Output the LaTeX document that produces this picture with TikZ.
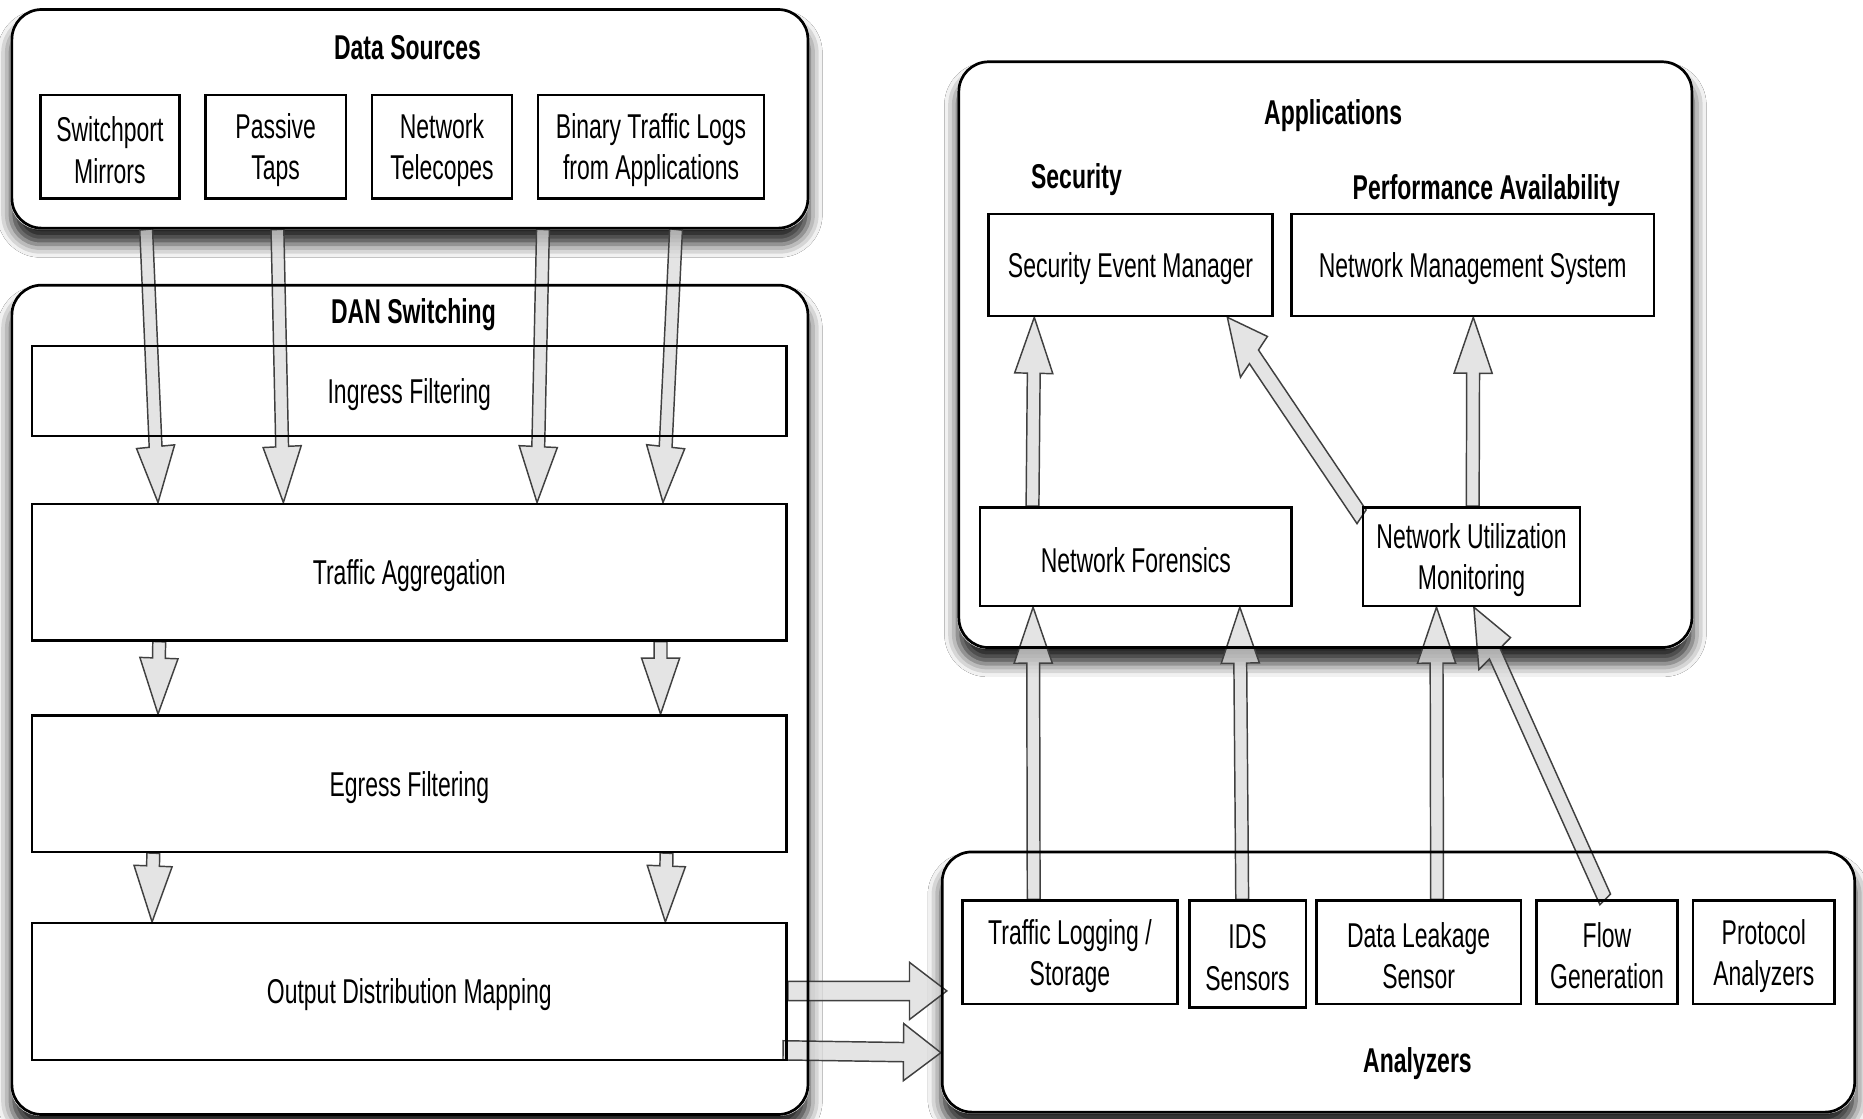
\documentclass[tikz,border=0pt]{standalone}
\usepackage{fontspec}
\setmainfont{Liberation Sans}[FakeStretch=0.667]
\usetikzlibrary{calc,shadows.blur}
\pgfdeclarelayer{bg}
\pgfdeclarelayer{arr}
\pgfsetlayers{bg,arr,main}

\def\sq{0.667}
\def\SW{4.6}
\def\HW{13.7}
\def\HL{26.8}
\newcommand\fapt[3]{%
  \pgfmathsetmacro\FAtx{\FAax+\sq*((#2)*(\FAux)+(#3)*(\FApx))}%
  \pgfmathsetmacro\FAty{\FAay+(#2)*(\FAuy)+(#3)*(\FApy)}%
  \expandafter\edef\csname FAp#1\endcsname{(\FAtx pt,\FAty pt)}}
\newcommand\fatarrow[2]{%
  \pgfpointanchor{#1}{center}\pgfgetlastxy{\FAxa}{\FAya}%
  \pgfpointanchor{#2}{center}\pgfgetlastxy{\FAxb}{\FAyb}%
  \pgfmathsetmacro\FAax{\FAxa}%
  \pgfmathsetmacro\FAay{\FAya}%
  \pgfmathsetmacro\FAdx{(\FAxb-\FAxa)/\sq}%
  \pgfmathsetmacro\FAdy{\FAyb-\FAya}%
  \pgfmathsetmacro\FAlen{veclen(\FAdx,\FAdy)}%
  \pgfmathsetmacro\FAux{(\FAdx)/(\FAlen)}%
  \pgfmathsetmacro\FAuy{(\FAdy)/(\FAlen)}%
  \pgfmathsetmacro\FApx{0-(\FAuy)}%
  \pgfmathsetmacro\FApy{\FAux}%
  \pgfmathsetmacro\FAb{\FAlen-\HL}%
  \fapt{a}{0}{\SW}\fapt{b}{\FAb}{\SW}\fapt{c}{\FAb}{\HW}\fapt{d}{\FAlen}{0}%
  \fapt{e}{\FAb}{-\HW}\fapt{f}{\FAb}{-\SW}\fapt{g}{0}{-\SW}%
  \edef\FApath{\noexpand\draw[fat] \csname FApa\endcsname -- \csname FApb\endcsname -- \csname FApc\endcsname -- \csname FApd\endcsname -- \csname FApe\endcsname -- \csname FApf\endcsname -- \csname FApg\endcsname -- cycle;}%
  \FApath}
\newcommand\contnode[5]{\node[cont,minimum width={(#3-#1)*0.02cm},minimum height={(#4-#2)*0.02cm}] (#5) at ({(#1+#3)/2},{(#2+#4)/2}) {};}
\newcommand\boxnode[6]{\node[box,minimum width={(#3-#1)*0.02cm},minimum height={(#4-#2)*0.02cm}] (#5) at ({(#1+#3)/2},{(#2+#4)/2}) {};
  \node[boxtext] (#5t) at ([yshift=-0.06cm]#5.center) {#6};}

\begin{document}
\begin{tikzpicture}[x=0.02cm,y=-0.02cm,
  every node/.style={font=\fontsize{16.5}{19.9}\selectfont},
  box/.style={draw=black, line width=1.2pt, inner sep=0pt},
  boxtext/.style={inner sep=0pt, align=center},
  cont/.style={draw=black, line width=1.3pt, inner sep=0pt, rounded corners=0.5cm},
  contfill/.style={fill=white, rounded corners=0.5cm,
    blur shadow={shadow xshift=0pt, shadow yshift=-0.25cm, shadow blur radius=0.22cm, shadow opacity=85}},
  fat/.style={draw=black!75, line width=0.7pt, fill=black!14, fill opacity=0.75, line join=miter},
  ttl/.style={font=\fontsize{16.5}{19.9}\selectfont\bfseries, anchor=base}]

\begin{pgfonlayer}{bg}
\fill[white] (0,0) rectangle (1568,941);
\end{pgfonlayer}
\useasboundingbox (0,0) rectangle (1568,941);

% containers
\contnode{10}{8}{680}{192}{ds}
\contnode{10}{240}{680}{938}{dan}
\contnode{807}{52}{1424}{545}{apps}
\contnode{793}{717}{1561}{936}{an}
\begin{pgfonlayer}{bg}
\foreach \c in {ds,dan,apps,an} \fill[contfill] (\c.south west) rectangle (\c.north east);
\end{pgfonlayer}

% titles
\node[ttl] (tds) at (343,50) {Data Sources};
\node[ttl] (tdan) at (348,272) {DAN Switching};
\node[ttl] (tapps) at (1122,105) {Applications};
\node[ttl] (tsec) at (906,159) {Security};
\node[ttl] (tperf) at (1251,168) {Performance Availability};
\node[ttl] (tan) at (1193,903) {Analyzers};

% inner boxes
\boxnode{34}{80}{151}{167}{sm}{Switchport\\Mirrors}
\boxnode{173}{80}{291}{167}{pst}{Passive\\Taps}
\boxnode{313}{80}{431}{167}{nt}{Network\\Telecopes}
\boxnode{453}{80}{643}{167}{bt}{Binary Traffic Logs\\from Applications}
\boxnode{27}{291}{662}{367}{ing}{Ingress Filtering}
\boxnode{27}{424}{662}{539}{ta}{Traffic Aggregation}
\boxnode{27}{602}{662}{717}{ef}{Egress Filtering}
\boxnode{27}{777}{662}{892}{odm}{Output Distribution Mapping}
\boxnode{832}{180}{1071}{266}{sem}{Security Event Manager}
\boxnode{1087}{180}{1392}{266}{nms}{Network Management System}
\boxnode{825}{427}{1087}{510}{nf}{Network Forensics}
\boxnode{1147}{427}{1330}{510}{num}{Network Utilization\\Monitoring}
\boxnode{810}{758}{991}{845}{tls}{Traffic Logging /\\Storage}
\boxnode{1001}{758}{1099}{848}{ids}{IDS\\Sensors}
\boxnode{1108}{758}{1280}{845}{dls}{Data Leakage\\Sensor}
\boxnode{1293}{758}{1412}{845}{fg}{Flow\\Generation}
\boxnode{1425}{758}{1544}{845}{pa}{Protocol\\Analyzers}

% arrow end points
\coordinate (a1t) at (123,0 |- ds.south);   \coordinate (a1h) at (133,0 |- ta.north);
\coordinate (a2t) at (233.5,0 |- ds.south); \coordinate (a2h) at (238.5,0 |- ta.north);
\coordinate (a3t) at (457,0 |- ds.south);   \coordinate (a3h) at (452,0 |- ta.north);
\coordinate (a4t) at (569,0 |- ds.south);   \coordinate (a4h) at (558,0 |- ta.north);
\coordinate (b1t) at (134,0 |- ta.south);   \coordinate (b1h) at (133,0 |- ef.north);
\coordinate (b2t) at (556,0 |- ta.south);   \coordinate (b2h) at (556,0 |- ef.north);
\coordinate (c1t) at (129,0 |- ef.south);   \coordinate (c1h) at (128,0 |- odm.north);
\coordinate (c2t) at (561,0 |- ef.south);   \coordinate (c2h) at (560,0 |- odm.north);
\coordinate (d1t) at (odm.east |- 0,834);   \coordinate (d1h) at ($(an.west |- 0,834)+(5,0)$);
\coordinate (d2t) at ($(odm.east |- 0,884)+(-4,0)$); \coordinate (d2h) at (an.west |- 0,886);
\coordinate (e1t) at (869,0 |- nf.north);   \coordinate (e1h) at (870.5,0 |- sem.south);
\coordinate (e2t) at ($(num.north west)+(0,9)$); \coordinate (e2h) at (1033,0 |- sem.south);
\coordinate (e3t) at (1239.5,0 |- num.north); \coordinate (e3h) at (1240,0 |- nms.south);
\coordinate (f1t) at (870,0 |- tls.north);  \coordinate (f1h) at (869.5,0 |- nf.south);
\coordinate (f2t) at (1045.5,0 |- ids.north); \coordinate (f2h) at (1043.5,0 |- nf.south);
\coordinate (f3t) at (1209.5,0 |- dls.north); \coordinate (f3h) at (1209,0 |- num.south);
\coordinate (f4t) at (1351,0 |- fg.north);  \coordinate (f4h) at (1240.5,0 |- num.south);

\begin{pgfonlayer}{arr}
\fatarrow{a1t}{a1h}\fatarrow{a2t}{a2h}\fatarrow{a3t}{a3h}\fatarrow{a4t}{a4h}
\fatarrow{b1t}{b1h}\fatarrow{b2t}{b2h}
\fatarrow{c1t}{c1h}\fatarrow{c2t}{c2h}
\fatarrow{d1t}{d1h}\fatarrow{d2t}{d2h}
\fatarrow{e1t}{e1h}\fatarrow{e2t}{e2h}\fatarrow{e3t}{e3h}
\fatarrow{f1t}{f1h}\fatarrow{f2t}{f2h}\fatarrow{f3t}{f3h}\fatarrow{f4t}{f4h}
\end{pgfonlayer}
\end{tikzpicture}
\end{document}
